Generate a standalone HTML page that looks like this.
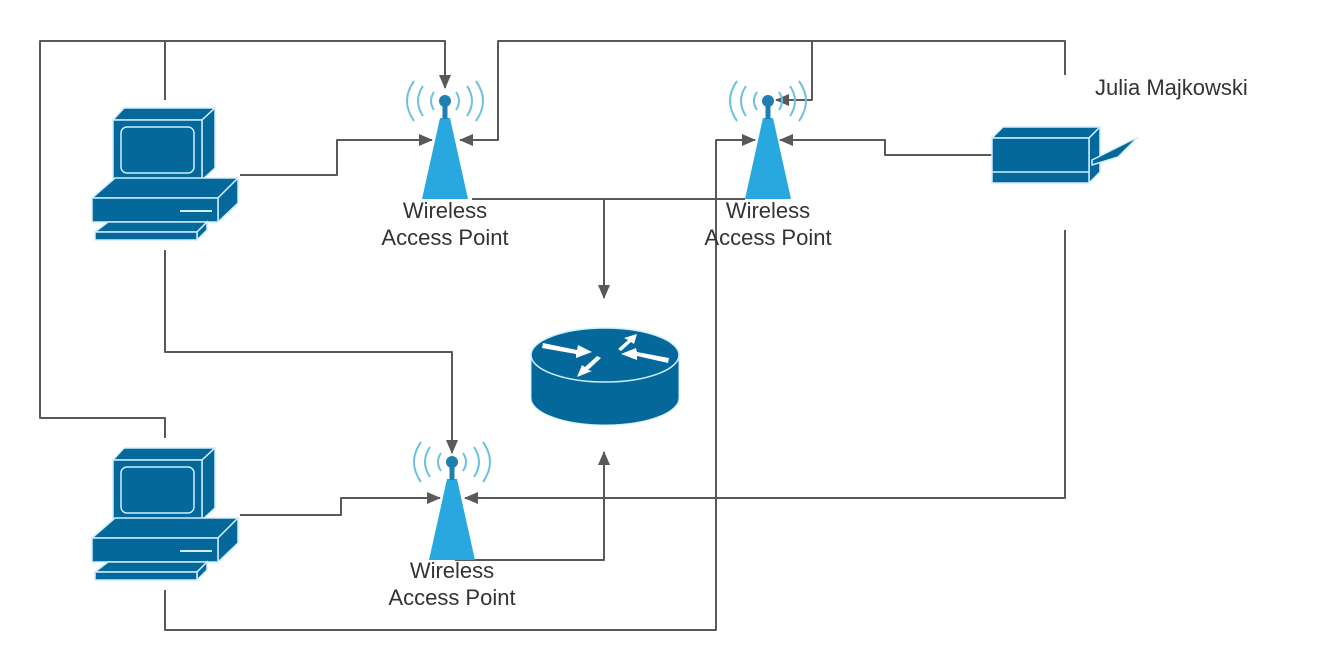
<!DOCTYPE html>
<html><head><style>
html,body{margin:0;padding:0;background:#fff;}
svg{display:block;}
text{font-family:"Liberation Sans",sans-serif;fill:#333;}
</style></head><body>
<svg width="1333" height="670" viewBox="0 0 1333 670" xmlns="http://www.w3.org/2000/svg">
<defs>
<marker id="ar" markerWidth="14" markerHeight="12" refX="13" refY="6" orient="auto" markerUnits="userSpaceOnUse">
<path d="M0,0 L14,6 L0,12 Z" fill="#595959"/>
</marker>
<g id="pc" stroke="#cfeeff" stroke-width="1.5" fill="#05689a">
<path d="M113,460 L124,448 L215,448 L202,460 Z"/>
<path d="M202,460 L215,448 L215,508 L202,520 Z"/>
<rect x="113" y="460" width="89" height="60"/>
<rect x="121" y="467" width="73" height="46" rx="6"/>
<path d="M92,538 L115,518 L238,518 L218,538 Z"/>
<path d="M218,538 L238,518 L238,543 L218,562 Z"/>
<rect x="92" y="538" width="126" height="24"/>
<path d="M95,572 L108,562 L207,562 L197,572 Z"/>
<path d="M197,572 L207,562 L207,570 L197,580 Z"/>
<rect x="95" y="572" width="102" height="8"/>
<rect x="180" y="550" width="32" height="2" fill="#cfeeff" stroke="none"/>
</g>
<g id="ap">
<path d="M-23,98 L-5,17 L5,17 L23,98 Z" fill="#29a8e0"/>
<rect x="-2.5" y="4" width="5" height="14" fill="#1f7fb0"/>
<circle cx="0" cy="0" r="6" fill="#1f7fb0"/>
<g fill="none" stroke="#6cc0e0" stroke-width="2">
<path d="M-11,-9 Q-17,0 -11,9"/><path d="M11,-9 Q17,0 11,9"/>
<path d="M-22,-15 Q-32,0 -22,15"/><path d="M22,-15 Q32,0 22,15"/>
<path d="M-31,-20 Q-45,0 -31,20"/><path d="M31,-20 Q45,0 31,20"/>
</g>
</g>
</defs>

<g fill="none" stroke="#595959" stroke-width="2" stroke-linejoin="round">
<path d="M165,438 L165,418 L40,418 L40,41 L445,41 L445,88" marker-end="url(#ar)"/>
<path d="M165,100 L165,41"/>
<path d="M1065,75 L1065,41 L498,41 L498,140 L460,140" marker-end="url(#ar)"/>
<path d="M812,41 L812,100 L776,100" marker-end="url(#ar)"/>
<path d="M240,175 L337,175 L337,140 L432,140" marker-end="url(#ar)"/>
<path d="M472,199 L745,199"/>
<path d="M604,199 L604,298" marker-end="url(#ar)"/>
<path d="M992,155 L885,155 L885,140 L780,140" marker-end="url(#ar)"/>
<path d="M165,590 L165,630 L716,630 L716,140 L755,140" marker-end="url(#ar)"/>
<path d="M165,250 L165,352 L452,352 L452,453" marker-end="url(#ar)"/>
<path d="M240,515 L341,515 L341,498 L440,498" marker-end="url(#ar)"/>
<path d="M1065,230 L1065,498 L465,498" marker-end="url(#ar)"/>
<path d="M455,560 L604,560 L604,452" marker-end="url(#ar)"/>
</g>

<use href="#pc" transform="translate(0,-340)"/>
<use href="#pc"/>

<use href="#ap" transform="translate(445,101)"/>
<use href="#ap" transform="translate(768,101)"/>
<use href="#ap" transform="translate(452,462)"/>

<g>
<path d="M531,355 L531,398 A74,27 0 0 0 679,398 L679,355 Z" fill="#05689a" stroke="#cfeeff" stroke-width="1"/>
<ellipse cx="605" cy="355" rx="74" ry="27" fill="#05689a" stroke="#cfeeff" stroke-width="1.5"/>
<g fill="#fff">
<path d="M543,343 L577,350 L578,345 L592,352 L576,358 L576,354 L542,348 Z"/>
<path d="M618,349 L628,340 L624,338 L637,334 L634,344 L631,342 L621,351 Z"/>
<path d="M668,363 L637,356 L637,360 L621,354 L636,348 L637,352 L669,358 Z"/>
<path d="M601,358 L588,370 L592,371 L577,377 L582,365 L585,367 L597,356 Z"/>
</g>
</g>

<g stroke="#cfeeff" stroke-width="1.5" fill="#05689a">
<path d="M992,138 L1003,127 L1100,127 L1089,138 Z"/>
<path d="M1089,138 L1100,127 L1100,172 L1089,183 Z"/>
<rect x="992" y="138" width="97" height="45"/>
<line x1="992" y1="172" x2="1089" y2="172"/>
<path d="M1092,160 L1138,137 L1118,157 L1092,165 Z"/>
</g>

<g font-size="22" text-anchor="middle">
<text x="445" y="218">Wireless</text>
<text x="445" y="245">Access Point</text>
<text x="768" y="218">Wireless</text>
<text x="768" y="245">Access Point</text>
<text x="452" y="578">Wireless</text>
<text x="452" y="605">Access Point</text>
</g>
<text x="1095" y="95" font-size="22">Julia Majkowski</text>
</svg>
</body></html>
